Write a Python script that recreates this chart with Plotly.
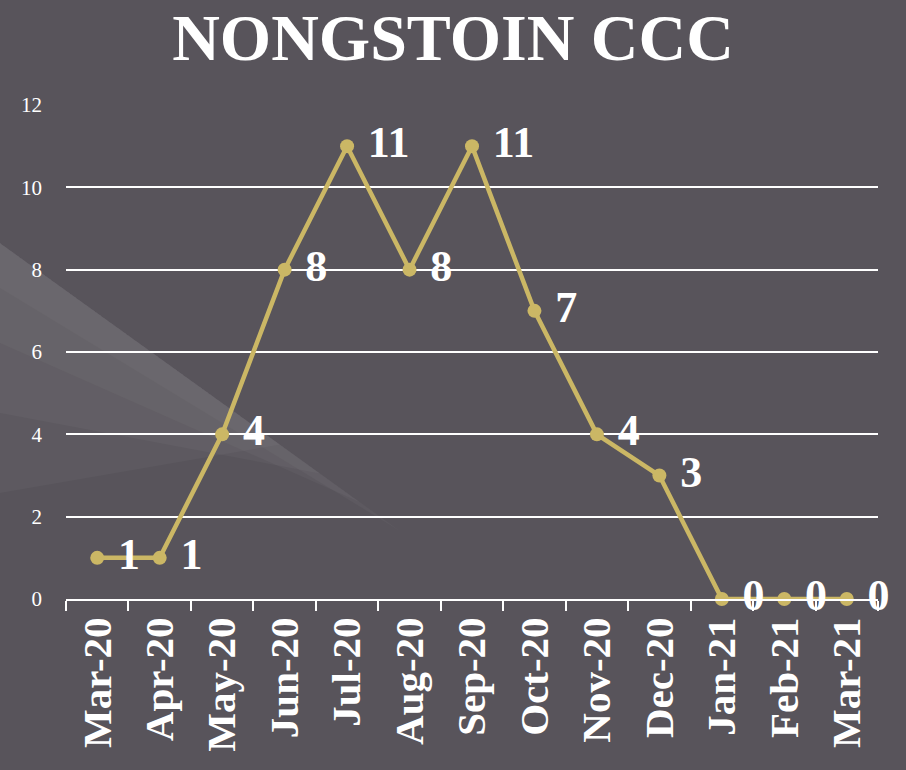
import plotly.graph_objects as go

months = ["Mar-20", "Apr-20", "May-20", "Jun-20", "Jul-20", "Aug-20", "Sep-20",
          "Oct-20", "Nov-20", "Dec-20", "Jan-21", "Feb-21", "Mar-21"]
cases = [1, 1, 4, 8, 11, 8, 11, 7, 4, 3, 0, 0, 0]
y_ticks = [0, 2, 4, 6, 8, 10, 12]

W, H = 906, 770
L, R, T, B = 66, 28, 105, 171
pw, ph = W - L - R, H - T - B

def px(x):
    return (x - L) / pw

def py(y):
    return (H - B - y) / ph

def poly(pts, rgba):
    path = "M " + " L ".join(f"{px(a):.4f},{py(b):.4f}" for a, b in pts) + " Z"
    return dict(type="path", xref="paper", yref="paper", path=path,
                fillcolor=rgba, line=dict(width=0), layer="below")

serif = "Liberation Serif, Times New Roman, serif"

fig = go.Figure()
fig.add_trace(go.Scatter(
    x=months, y=cases, mode="lines+markers+text",
    line=dict(color="#cbb765", width=4.5),
    marker=dict(color="#cbb765", size=14),
    text=[" " + str(v) for v in cases], textposition="middle right",
    textfont=dict(family=serif, size=44, color="white", weight="bold"),
    cliponaxis=False, showlegend=False,
))

shapes = []
# smooth vertical lightening toward the top
for k in range(1, 11):
    shapes.append(poly([(0, 0), (W, 0), (W, 40 * k), (0, 40 * k)], "rgba(255,255,255,0.004)"))
# soft diagonal light streak on the left (wedges sharing the upper edge)
for d, xr in ((45, 400), (100, 360), (170, 320), (250, 280)):
    shapes.append(poly([(0, 243), (xr, 243 + 0.72 * xr), (0, 243 + d)],
                       "rgba(255,255,255,0.03)"))

fig.update_layout(
    width=W, height=H,
    margin=dict(l=L, r=R, t=T, b=B),
    paper_bgcolor="#58545b", plot_bgcolor="rgba(0,0,0,0)",
    title=dict(text="NONGSTOIN CCC", x=0.5, xanchor="center", y=0.982, yanchor="top",
               font=dict(family=serif, size=66, color="white", weight="bold")),
    shapes=shapes,
    xaxis=dict(
        type="category", range=[-0.5, 12.5], tickson="boundaries",
        ticks="outside", ticklen=10, tickwidth=2, tickcolor="white",
        showline=True, linecolor="white", linewidth=2, showgrid=False,
        tickangle=-90, tickfont=dict(family=serif, size=41, color="white", weight="bold"),
    ),
    yaxis=dict(
        range=[0, 12], tickvals=y_ticks, showgrid=True, gridcolor="white", gridwidth=2,
        zeroline=False, showline=False, ticks="", ticklabelstandoff=23,
        tickfont=dict(family=serif, size=21, color="white"),
    ),
)

fig.write_html("out.html", config={"displayModeBar": False},
               post_script="document.body.style.margin='0';document.body.style.background='#58545b';")
